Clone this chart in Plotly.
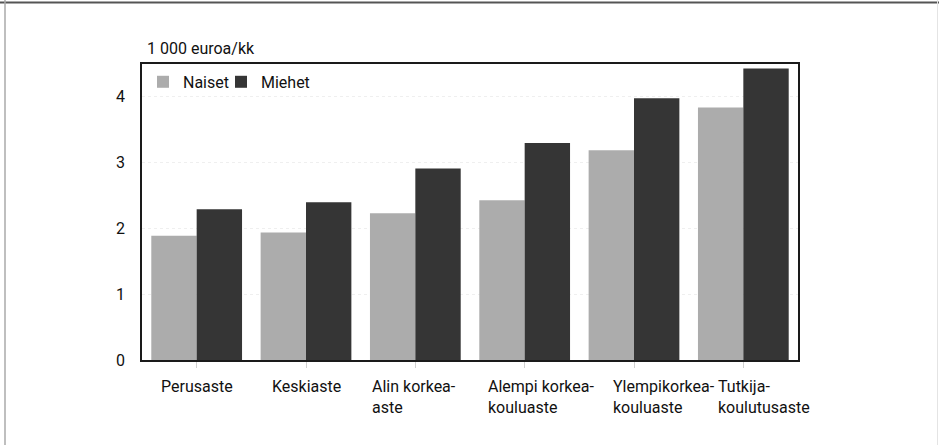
import plotly.graph_objects as go

# Monthly earnings by level of education, thousand euros per month
categories = ["Perusaste", "Keskiaste", "Alin korkea-<br>aste", "Alempi korkea-<br>kouluaste",
              "Ylempikorkea-<br>kouluaste", "Tutkija-<br>koulutusaste"]
naiset = [1.89, 1.94, 2.23, 2.43, 3.19, 3.84]
miehet = [2.29, 2.40, 2.91, 3.30, 3.98, 4.43]
y_ticks = [0, 1, 2, 3, 4]
y_title = "1 000 euroa/kk"

# pixel offsets of the left edge of each category label from the category centre
label_shift = [-38, -36, -45, -39, -23, -27]

FONT = "Roboto"
FS = 16
W, H = 939, 445
L, R, T, B = 142, 141, 64, 85
pw, ph = W - L - R, H - T - B

x_idx = list(range(len(categories)))

fig = go.Figure()
fig.add_trace(go.Bar(x=x_idx, y=naiset, name="Naiset", legend="legend",
                     marker=dict(color="#acacac", line=dict(width=0))))
fig.add_trace(go.Bar(x=x_idx, y=miehet, name="Miehet", legend="legend2",
                     marker=dict(color="#353535", line=dict(width=0))))

# category labels, left-aligned under each bar pair
annotations = []
for i, (cat, dx) in enumerate(zip(categories, label_shift)):
    annotations.append(dict(x=i, y=0, xref="x", yref="y", text=cat, showarrow=False,
                            xanchor="left", yanchor="top", align="left",
                            xshift=dx, yshift=-15,
                            font=dict(family=FONT, size=FS, color="#111")))
annotations.append(dict(x=0, y=1, xref="paper", yref="paper", text=y_title,
                        showarrow=False, xanchor="left", yanchor="bottom",
                        xshift=3, yshift=4,
                        font=dict(family=FONT, size=FS, color="#111")))


def px_x(p):
    return (p - L) / pw


def px_y(p):
    return (H - B - p) / ph


shapes = [
    dict(type="line", xref="paper", yref="paper", x0=px_x(0), x1=px_x(W), y0=px_y(2.5), y1=px_y(2.5),
         line=dict(color="#555", width=2)),
    dict(type="line", xref="paper", yref="paper", x0=px_x(5), x1=px_x(5), y0=px_y(0), y1=px_y(H),
         line=dict(color="#aaa", width=1.5)),
    dict(type="line", xref="paper", yref="paper", x0=px_x(937.5), x1=px_x(937.5), y0=px_y(0), y1=px_y(H),
         line=dict(color="#e4e4e4", width=1)),
]

legend_style = dict(orientation="h", xanchor="left", yanchor="top",
                    bgcolor="rgba(0,0,0,0)", font=dict(family=FONT, size=FS, color="#111"),
                    itemwidth=30)

fig.update_layout(
    width=W, height=H,
    margin=dict(l=L, r=R, t=T, b=B, pad=0),
    paper_bgcolor="white", plot_bgcolor="white",
    barmode="group", bargap=0.17, bargroupgap=0,
    font=dict(family=FONT, size=FS, color="#111"),
    showlegend=True,
    legend=dict(x=0.0015, y=0.997, **legend_style),
    legend2=dict(x=0.1204, y=0.997, **legend_style),
    annotations=annotations,
    shapes=shapes,
)
fig.update_xaxes(range=[-0.5, len(categories) - 0.5], tickvals=x_idx, showticklabels=False,
                 ticks="outside", ticklen=6, tickcolor="#d0d0d0", tickwidth=1,
                 showline=True, linecolor="#1a1a1a", linewidth=1.5, mirror=True,
                 showgrid=False, zeroline=False)
fig.update_yaxes(range=[0, 4.5], tickvals=y_ticks, ticks="", ticklabelstandoff=12,
                 tickfont=dict(family=FONT, size=FS, color="#111"),
                 showline=True, linecolor="#1a1a1a", linewidth=1.5, mirror=True,
                 showgrid=True, gridcolor="#efefef", griddash="dot", gridwidth=1,
                 zeroline=False)

fig.write_html("out.html")
